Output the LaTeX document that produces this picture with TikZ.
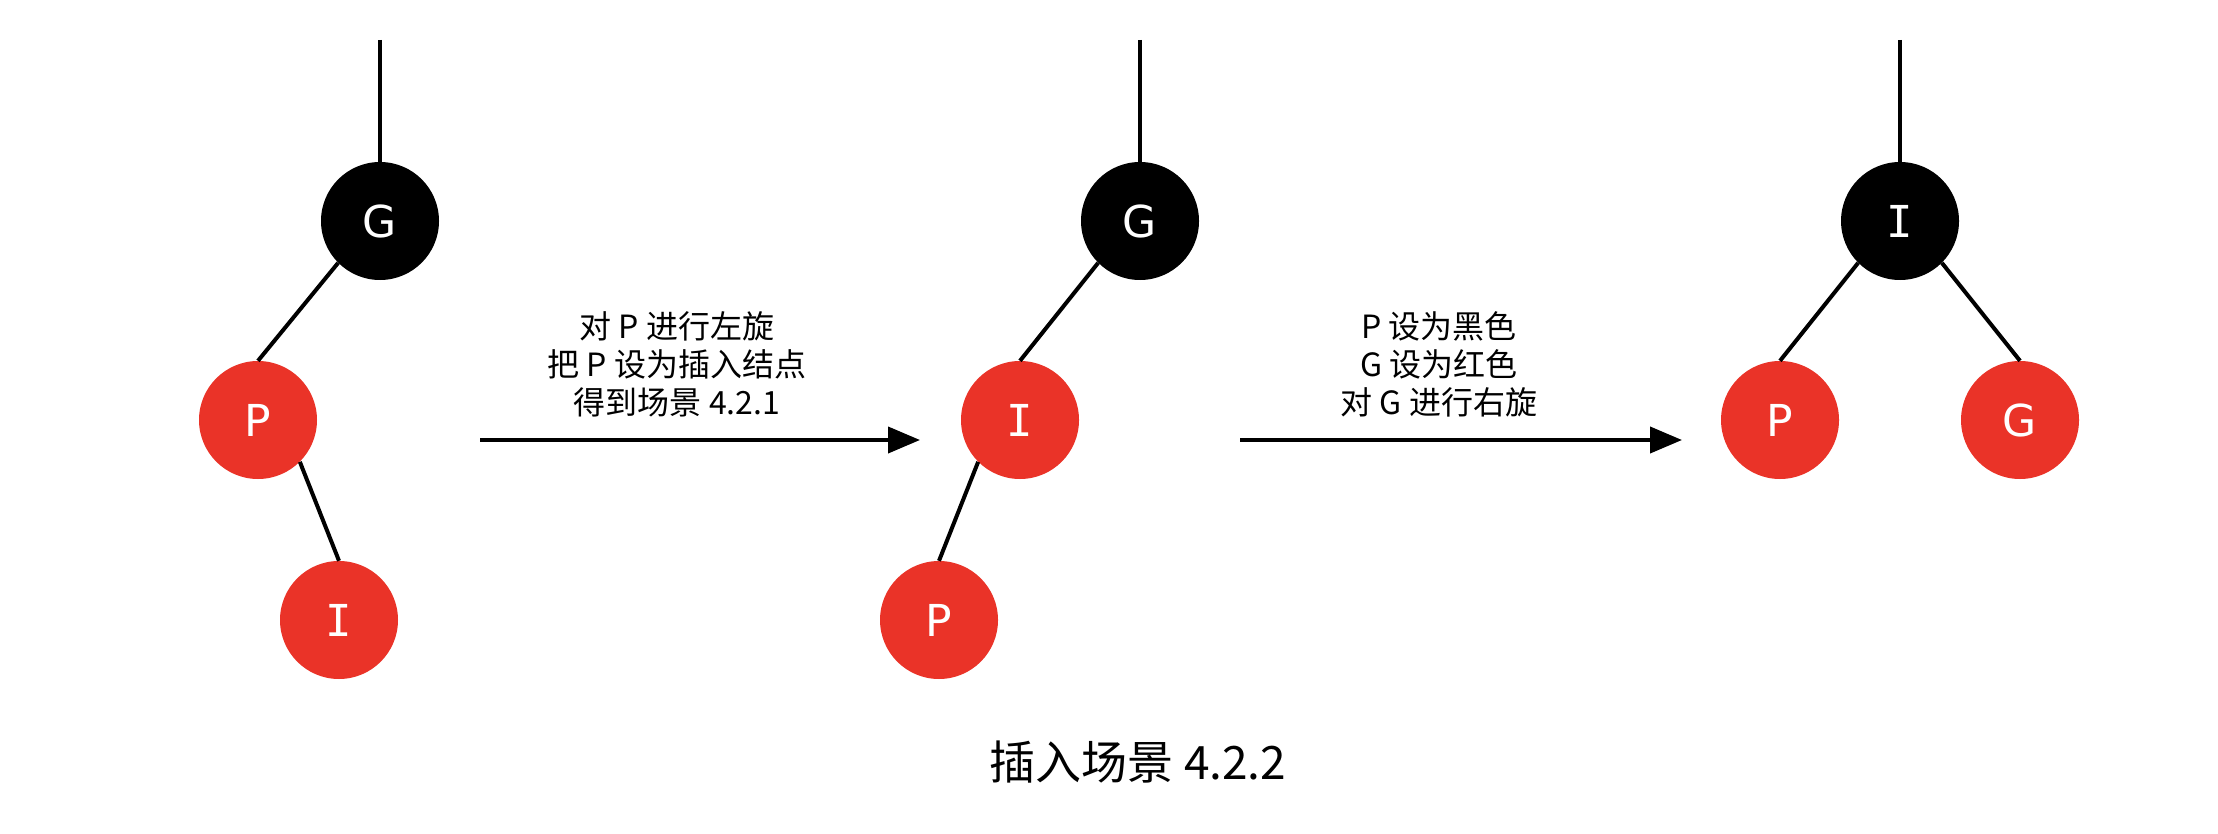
\documentclass[tikz,border=0pt]{standalone}
\usepackage{fontspec}
\setmainfont{DejaVu Sans}
\newfontfamily\cjk{Noto Sans CJK SC}
\newfontfamily\serifI{DejaVu Sans Mono}
\usetikzlibrary{arrows.meta}
\definecolor{rbred}{RGB}{234,51,40}
\begin{document}
\begin{tikzpicture}[x=1pt,y=-1pt,
  rbnode/.style={circle, minimum size=118pt, inner sep=0pt, text=white,
    font=\fontsize{44}{44}\selectfont},
  blknode/.style={rbnode, fill=black},
  rednode/.style={rbnode, fill=rbred},
  edge/.style={line width=4pt},
  arr/.style={line width=4pt, -{Triangle[length=32pt,width=26pt]}},
  lbl/.style={font=\cjk\fontsize{32}{38}\selectfont, align=center}]
\useasboundingbox[fill=white] (0,0) rectangle (2218,834);

% tree 1
\node[blknode] (g1) at (380,221) {G};
\node[rednode] (p1) at (258,420) {P};
\node[rednode] (i1) at (339,620) {\serifI I};
\coordinate (t1) at (380,40);
\draw[edge] (t1) -- (g1.north);
\draw[edge] (g1.south west) -- (p1.north);
\draw[edge] (p1.south east) -- (i1.north);

% tree 2
\node[blknode] (g2) at (1140,221) {G};
\node[rednode] (i2) at (1020,420) {\serifI I};
\node[rednode] (p2) at (939,620) {P};
\coordinate (t2) at (1140,40);
\draw[edge] (t2) -- (g2.north);
\draw[edge] (g2.south west) -- (i2.north);
\draw[edge] (i2.south west) -- (p2.north);

% tree 3
\node[blknode] (i3) at (1900,221) {\serifI I};
\node[rednode] (p3) at (1780,420) {P};
\node[rednode] (g3) at (2020,420) {G};
\coordinate (t3) at (1900,40);
\draw[edge] (t3) -- (i3.north);
\draw[edge] (i3.south west) -- (p3.north);
\draw[edge] (i3.south east) -- (g3.north);

% arrows
\coordinate (a1s) at (480,440);
\coordinate (a1e) at (920,440);
\draw[arr] (a1s) -- (a1e);
\node[lbl] (l1) at (677,364) {对 P 进行左旋\\把 P 设为插入结点\\得到场景 4.2.1};

\coordinate (a2s) at (1240,440);
\coordinate (a2e) at (1682,440);
\draw[arr] (a2s) -- (a2e);
\node[lbl] (l2) at (1439,364) {P 设为黑色\\G 设为红色\\对 G 进行右旋};

% caption
\node[font=\cjk\fontsize{46}{46}\selectfont] (cap) at (1138,762) {插入场景 4.2.2};
\end{tikzpicture}
\end{document}
